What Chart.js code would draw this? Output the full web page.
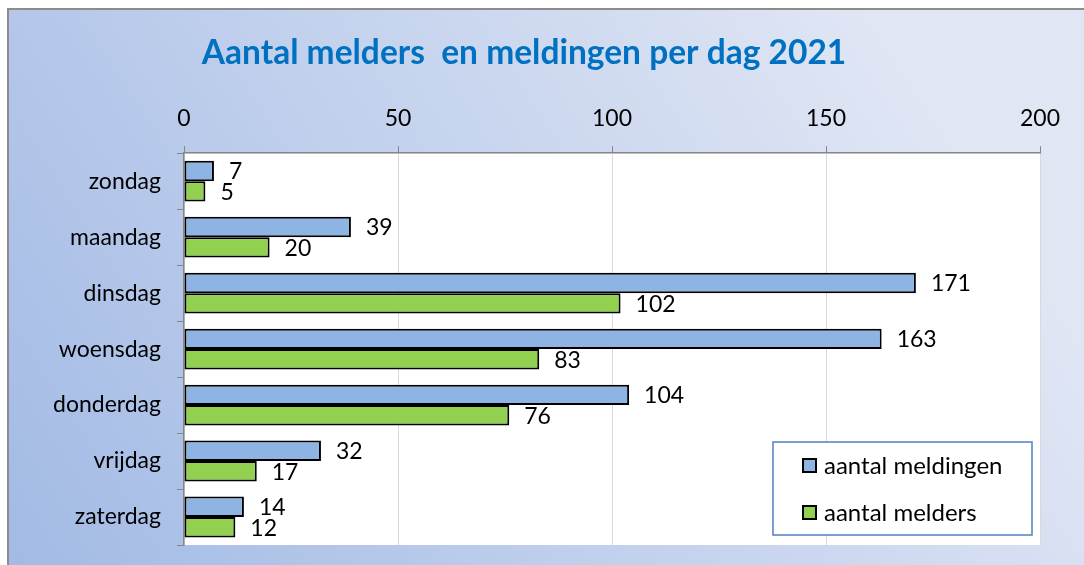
<!DOCTYPE html>
<html>
<head>
    <meta charset="utf-8" />
    <style>
        html, body { margin: 0; padding: 0; background: #ffffff; }
        #wrap { width: 1084px; height: 565px; }
    </style>
</head>
<body>
    <div id="wrap"><canvas id="chart"></canvas></div>

    <script src="https://cdn.jsdelivr.net/npm/chart.js"></script>
    <script type="text/javascript">

        // gegevens uit de grafiek
        const dagen = ['zondag', 'maandag', 'dinsdag', 'woensdag', 'donderdag', 'vrijdag', 'zaterdag'];
        const meldingen = [7, 39, 171, 163, 104, 32, 14];
        const melders = [5, 20, 102, 83, 76, 17, 12];
        const asTicks = [0, 50, 100, 150, 200];

        const lettertype = 'Lato, "Noto Sans", sans-serif';

        // achtergrond met verloop + witte plotruimte
        const achtergrond = {
            id: 'achtergrond',
            beforeDraw(chart) {
                const c = chart.ctx;
                const w = chart.width, h = chart.height;
                const grad = c.createLinearGradient(8, h, w * 0.8, 9);
                grad.addColorStop(0, '#a2bae5');
                grad.addColorStop(1, '#e0e6f4');
                c.save();
                c.fillStyle = grad;
                c.fillRect(8, 9, w - 8, h - 9);
                c.strokeStyle = '#8c8c8c';
                c.lineWidth = 2;
                c.beginPath();
                c.moveTo(8, h);
                c.lineTo(8, 9);
                c.lineTo(w, 9);
                c.stroke();
                const a = chart.chartArea;
                c.fillStyle = '#ffffff';
                c.fillRect(a.left, a.top, a.right - a.left, a.bottom - a.top);
                c.restore();
            }
        };

        // waarden naast de balken
        const labels = {
            id: 'labels',
            afterDatasetsDraw(chart) {
                const c = chart.ctx;
                c.save();
                c.font = '23px ' + lettertype;
                c.fillStyle = '#000000';
                c.textAlign = 'left';
                c.textBaseline = 'middle';
                chart.data.datasets.forEach((ds, i) => {
                    chart.getDatasetMeta(i).data.forEach((bar, j) => {
                        c.fillText(ds.data[j], bar.x + 15, bar.y + 1);
                    });
                });
                c.restore();
            }
        };

        // legenda in een kader rechtsonder
        const legenda = {
            id: 'legenda',
            afterDraw(chart) {
                const c = chart.ctx;
                const x = 773, y = 442, w = 259, h = 93;
                c.save();
                c.fillStyle = '#ffffff';
                c.fillRect(x, y, w, h);
                c.strokeStyle = '#4f81bd';
                c.lineWidth = 1.5;
                c.strokeRect(x, y, w, h);
                c.font = '24px ' + lettertype;
                c.textBaseline = 'middle';
                c.textAlign = 'left';
                chart.data.datasets.forEach((ds, i) => {
                    const yy = y + 24 + i * 47;
                    c.fillStyle = ds.backgroundColor;
                    c.fillRect(x + 30, yy - 7, 13, 13);
                    c.strokeStyle = '#000000';
                    c.lineWidth = 2;
                    c.strokeRect(x + 30, yy - 7, 13, 13);
                    c.fillStyle = '#000000';
                    c.fillText(ds.label, x + 51, yy);
                });
                c.restore();
            }
        };

        const ctx = document.getElementById('chart').getContext('2d');

        new Chart(ctx, {
            type: 'bar',
            data: {
                labels: dagen,
                datasets: [{
                    label: 'aantal meldingen',
                    data: meldingen,
                    backgroundColor: '#8eb4e3',
                    borderColor: '#000000',
                    borderWidth: 2,
                    borderSkipped: false,
                    barPercentage: 1,
                    categoryPercentage: 0.73
                }, {
                    label: 'aantal melders',
                    data: melders,
                    backgroundColor: '#92d050',
                    borderColor: '#000000',
                    borderWidth: 2,
                    borderSkipped: false,
                    barPercentage: 1,
                    categoryPercentage: 0.73
                }]
            },
            options: {
                indexAxis: 'y',
                responsive: true,
                maintainAspectRatio: false,
                animation: false,
                layout: {
                    padding: { left: 8, right: 44, top: 9, bottom: 20 }
                },
                plugins: {
                    legend: { display: false },
                    tooltip: { enabled: false },
                    title: {
                        display: true,
                        text: 'Aantal melders  en meldingen per dag 2021',
                        color: '#0070c0',
                        font: { family: lettertype, size: 33.5, weight: 'bold' },
                        padding: { top: 24, bottom: 0 }
                    }
                },
                scales: {
                    x: {
                        position: 'top',
                        min: 0,
                        max: 200,
                        afterBuildTicks(scale) {
                            scale.ticks = asTicks.map(v => ({ value: v }));
                        },
                        afterFit(scale) {
                            scale.height = 80;
                        },
                        ticks: {
                            color: '#000000',
                            padding: 14,
                            font: { family: lettertype, size: 23 }
                        },
                        grid: {
                            color: '#d9d9d9',
                            tickColor: '#868686',
                            tickLength: 7
                        },
                        border: { color: '#868686', width: 1.5 }
                    },
                    y: {
                        afterFit(scale) {
                            scale.width = 176;
                            scale.paddingTop = 0;
                            scale.paddingBottom = 0;
                        },
                        ticks: {
                            color: '#000000',
                            padding: 16,
                            font: { family: lettertype, size: 23 }
                        },
                        grid: {
                            offset: true,
                            drawOnChartArea: false,
                            tickColor: '#868686',
                            tickLength: 7
                        },
                        border: { color: '#868686', width: 1.5 }
                    }
                }
            },
            plugins: [achtergrond, labels, legenda]
        });

    </script>
</body>
</html>
